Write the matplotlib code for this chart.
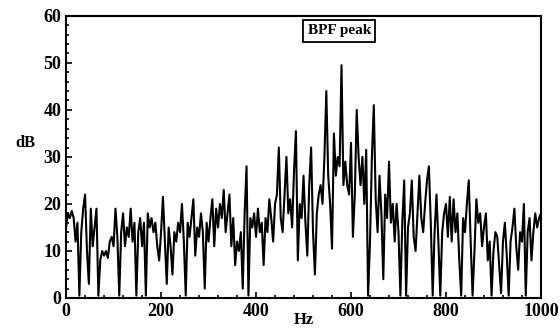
import numpy as np
import matplotlib
matplotlib.use('Agg')
import matplotlib.pyplot as plt
from matplotlib.ticker import MultipleLocator

# spectrum, one value every 4 Hz
freq_step = 4
db_000 = [15, 18, 17, 18.5, 17, 12, 16, 0.5, 14, 19, 22, 10, 3, 19, 11, 15, 19, 0.5, 8, 10, 9, 10, 8.5, 12, 13]
db_100 = [11, 19, 13, 0.5, 14, 18, 11, 15, 13, 19, 12, 16, 0.5, 14, 17, 11, 16, 0.5, 18, 15, 17, 14, 16, 11, 8]
db_200 = [14, 21.5, 12, 3, 15, 11, 5, 14, 12, 16, 14, 20, 12, 0.5, 16, 13, 17, 21, 9, 15, 13, 18, 14, 2, 16]
db_300 = [12, 17, 21, 11, 19, 15, 20, 17, 23, 14, 18, 22, 11, 17, 7, 12, 10, 14, 2, 18, 28, 0.5, 17, 15, 18]
db_400 = [13, 19, 14, 16, 7, 17, 14, 21, 17, 12, 20, 22, 32, 17, 14, 22, 30, 18, 21, 15, 27, 35.5, 8, 20, 17]
db_500 = [26, 16, 9, 24, 32, 14, 5, 18, 22, 24, 20, 30, 44, 26, 20, 10.5, 35, 26, 30, 28, 49.5, 24, 29, 24, 22]
db_600 = [33, 13, 22, 40, 30, 24, 30, 20, 31.5, 0.5, 12, 30, 41, 21, 14, 26, 18, 4, 22, 17, 29, 16, 20, 12, 20]
db_700 = [14, 0.5, 16, 25, 0.5, 15, 18, 25, 13, 10, 18, 26, 17, 14, 20, 25, 28, 16, 0.5, 14, 22, 12, 0.5, 14, 18]
db_800 = [20, 13, 21.5, 12, 21, 14, 18, 8, 0.5, 17, 14, 20, 25, 12, 0.5, 10, 21, 16, 18, 11, 15, 18, 8, 12, 0.5]
db_900 = [10, 14, 13, 7, 1, 12, 16, 9, 0.5, 12, 15, 19, 11, 6, 14, 12, 20, 0.5, 14, 17, 8, 14, 18, 15, 17, 18]

db = db_000 + db_100 + db_200 + db_300 + db_400 + db_500 + db_600 + db_700 + db_800 + db_900
hz = np.arange(len(db)) * freq_step

plt.rcParams['font.family'] = ['Liberation Serif', 'DejaVu Serif']
plt.rcParams['font.weight'] = 'bold'

fig = plt.figure(figsize=(5.6, 3.3), dpi=100)
ax = fig.add_axes([0.118, 0.097, 0.848, 0.855])
ax.plot(hz, db, color='black', linewidth=1.5)

ax.set_xlim(0, 1000)
ax.set_ylim(0, 60)
ax.xaxis.set_major_locator(MultipleLocator(200))
ax.xaxis.set_minor_locator(MultipleLocator(40))
ax.yaxis.set_major_locator(MultipleLocator(10))
ax.yaxis.set_minor_locator(MultipleLocator(2))
ax.tick_params(which='both', direction='in', labelsize=13, width=1.2)
ax.tick_params(which='major', length=4)
ax.tick_params(which='minor', length=2)
for s in ax.spines.values():
    s.set_linewidth(1.5)

ax.set_xlabel('Hz', fontsize=12, fontweight='bold')
ax.xaxis.set_label_coords(0.50, -0.05)
ax.set_ylabel('dB', fontsize=12, fontweight='bold', rotation=0)
ax.yaxis.set_label_coords(-0.085, 0.52)

ax.text(0.575, 0.947, 'BPF peak', transform=ax.transAxes, fontsize=11,
        ha='center', va='center',
        bbox=dict(boxstyle='square,pad=0.3', facecolor='white', edgecolor='black', linewidth=1.3))

fig.savefig('out.png', dpi=100)
